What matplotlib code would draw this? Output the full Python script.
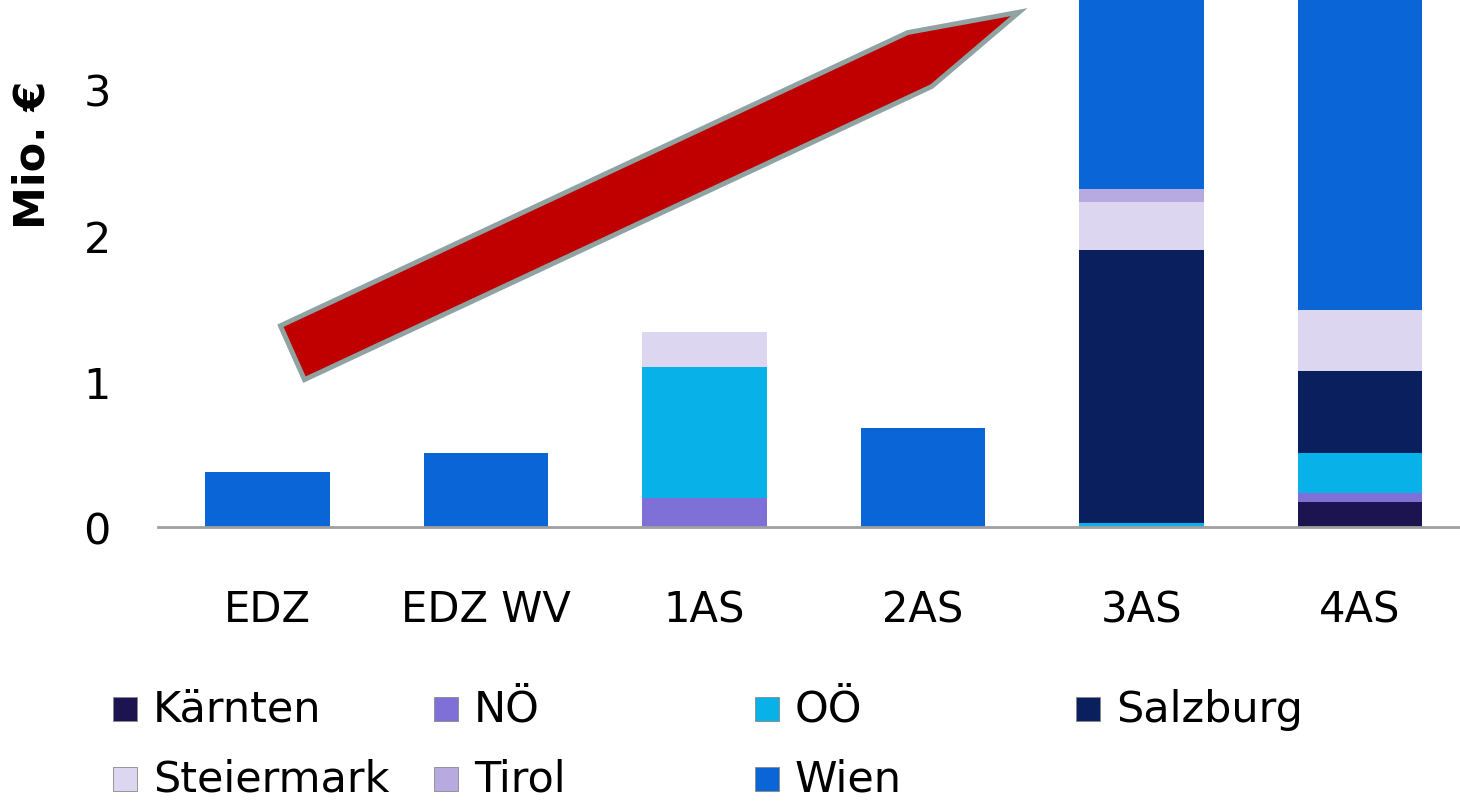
import numpy as np
import matplotlib
matplotlib.use("Agg")
import matplotlib.pyplot as plt
from matplotlib.patches import Polygon, Rectangle

categories = ["EDZ", "EDZ WV", "1AS", "2AS", "3AS", "4AS"]
regions = ["Kärnten", "NÖ", "OÖ", "Salzburg", "Steiermark", "Tirol", "Wien"]

# Mio. € per category (Wien in 3AS/4AS runs past the top of the chart)
kaernten = [0, 0, 0, 0, 0, 0.17]
noe = [0, 0, 0.20, 0, 0, 0.06]
ooe = [0, 0, 0.90, 0, 0.03, 0.28]
salzburg = [0, 0, 0, 0, 1.87, 0.56]
steiermark = [0, 0, 0.24, 0, 0.33, 0.42]
tirol = [0, 0, 0, 0, 0.09, 0]
wien = [0.38, 0.51, 0, 0.68, 1.50, 2.30]

colors = ["#1c1450", "#7f70d8", "#08b2e8", "#0a1f5e", "#dcd6f0", "#b6aae0", "#0a66d6"]

# red trend arrow outline (x in category units, y in Mio. €)
arrow_x = [0.06, 0.17, 3.04, 3.44, 2.93]
arrow_y = [1.38, 1.01, 3.02, 3.53, 3.39]

fig = plt.figure(figsize=(14.6, 8.03), dpi=100)
ax = fig.add_axes([158 / 1460, 275 / 803, 1302 / 1460, 528 / 803])

series = [kaernten, noe, ooe, salzburg, steiermark, tirol, wien]
x = np.arange(len(categories))
bottom = np.zeros(len(categories))
for name, vals, col in zip(regions, series, colors):
    vals = np.array(vals, dtype=float)
    ax.bar(x, vals, 0.57, bottom=bottom, color=col, linewidth=0,
           label=name, zorder=2)
    bottom += vals

arrow = Polygon(np.column_stack([arrow_x, arrow_y]), closed=True,
                facecolor="#c00000", edgecolor="#8fa3a3", linewidth=3.5,
                joinstyle="miter", zorder=3)
ax.add_patch(arrow)

ax.set_xlim(-0.5, 5.457)
ax.set_ylim(0, 3.62)
ax.set_yticks([0, 1, 2, 3])
ax.set_xticks(x)
ax.set_xticklabels(categories)
ax.tick_params(axis="x", length=0, pad=44, labelsize=30)
ax.tick_params(axis="y", length=0, pad=34, labelsize=31)
for s in ["top", "right", "left"]:
    ax.spines[s].set_visible(False)
ax.spines["bottom"].set_color("#a0a0a0")
ax.spines["bottom"].set_linewidth(2)
ax.set_ylabel("Mio. €", fontsize=31, fontweight="bold")
ax.yaxis.set_label_coords(-0.080, 0.706)

# legend laid out like the original, 4 entries per row
for i, (name, col) in enumerate(zip(regions, colors)):
    cx = 113 + (i % 4) * 321
    cy = 710 + (i // 4) * 70
    fig.patches.append(Rectangle(((cx) / 1460, (803 - cy - 12) / 803), 24 / 1460, 24 / 803,
                                 transform=fig.transFigure, facecolor=col,
                                 edgecolor="#888888", linewidth=0.6))
    fig.text((cx + 40) / 1460, (803 - cy) / 803, name, fontsize=31,
             va="center", ha="left")

fig.savefig("out.png", dpi=100)
